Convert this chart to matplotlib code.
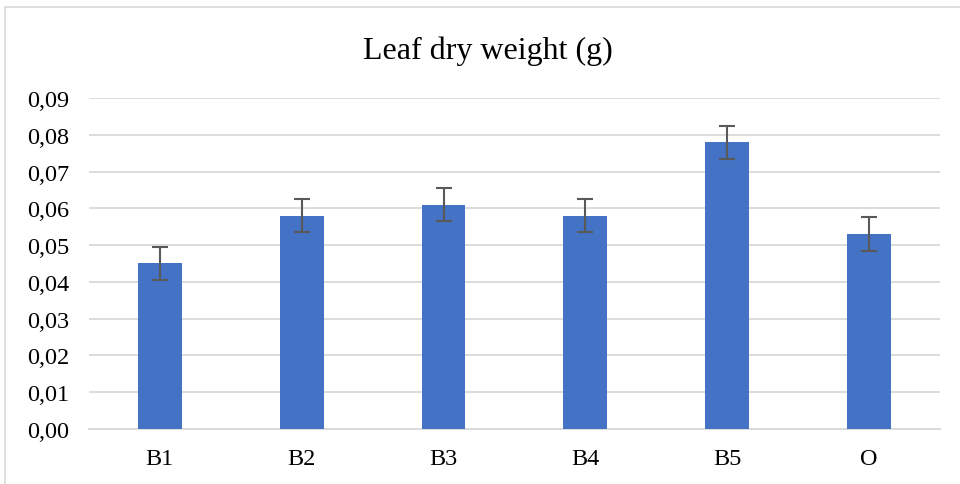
import matplotlib
matplotlib.use('Agg')
import matplotlib.pyplot as plt
from matplotlib.patches import Rectangle
from matplotlib.ticker import FuncFormatter

# Datos
categories = ['B1', 'B2', 'B3', 'B4', 'B5', 'O']
values = [0.045, 0.058, 0.061, 0.058, 0.078, 0.053]
errors = [0.0045, 0.0045, 0.0045, 0.0045, 0.0045, 0.0045]
yticks = [0.00, 0.01, 0.02, 0.03, 0.04, 0.05, 0.06, 0.07, 0.08, 0.09]

plt.rcParams['font.family'] = ['Liberation Serif', 'DejaVu Serif']

fig = plt.figure(figsize=(9.6, 4.85), dpi=100)
ax = fig.add_axes([0.0927, 0.1134, 0.8863, 0.6826])

# marco del grafico
fig.patches.append(Rectangle((5 / 960, -0.1), 1.2, 1.1 - 8 / 485,
                             transform=fig.transFigure, fill=False,
                             edgecolor='#D9D9D9', linewidth=1.2))

x = range(len(categories))
ax.bar(x, values, width=0.31, color='#4472C4', zorder=3)
ax.errorbar(x, values, yerr=errors, fmt='none', ecolor='#595959',
            elinewidth=1.5, capsize=6, capthick=1.5, zorder=4)

ax.set_xlim(-0.5, len(categories) - 0.5)
ax.set_ylim(0, 0.09)
ax.set_yticks(yticks)
ax.yaxis.set_major_formatter(FuncFormatter(lambda v, p: f'{v:.2f}'.replace('.', ',')))
ax.set_xticks(list(x))
ax.set_xticklabels(categories)
ax.tick_params(axis='both', length=0, labelsize=17.5, colors='black')
ax.tick_params(axis='x', pad=14)
ax.tick_params(axis='y', pad=14)

ax.grid(axis='y', color='#D9D9D9', linewidth=1.3, zorder=0)
for s in ['top', 'right', 'left']:
    ax.spines[s].set_visible(False)
ax.spines['bottom'].set_color('#D9D9D9')
ax.spines['bottom'].set_linewidth(1.3)

fig.text(0.508, 0.895, 'Leaf dry weight (g)', ha='center', va='center', fontsize=23)

fig.savefig('out.png', dpi=100)
